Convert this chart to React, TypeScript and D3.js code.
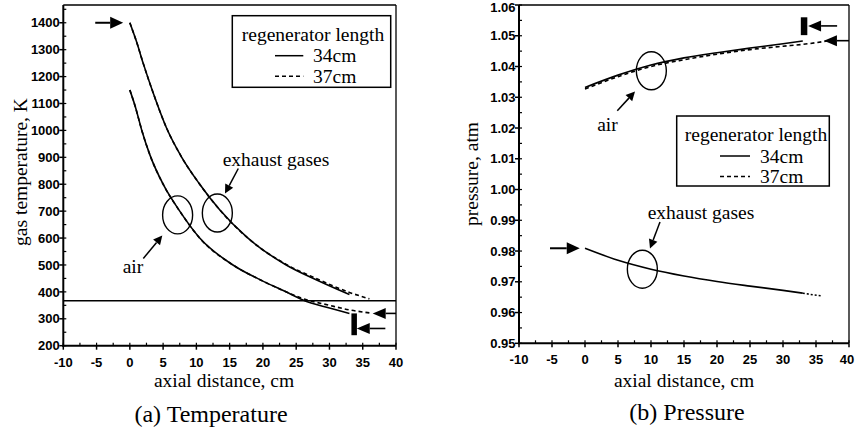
import React from "react";
import * as d3 from "d3";

// ---- Temperature panel data (axial distance cm, gas temperature K) ----
const exhaust34X = [0, 1, 2, 3.5, 5.5, 7.8, 10.5, 13.5, 17.5, 23.5, 28, 33];
const exhaust34T = [1400, 1330, 1250, 1140, 1010, 900, 800, 705, 605, 500, 445, 390];
const exhaust37X = [0, 1, 2, 3.5, 5.5, 7.8, 10.5, 13.5, 17.5, 23.5, 28, 33, 36];
const exhaust37T = [1400, 1330, 1250, 1140, 1010, 900, 800, 705, 605, 502, 450, 398, 374];
const air34X = [0, 0.8, 1.8, 3, 5, 7.5, 10.5, 15.5, 20, 23.3, 26, 30, 33];
const air34T = [1150, 1090, 1000, 910, 800, 700, 600, 500, 440, 402, 370, 340, 320];
const air37X = [0, 0.8, 1.8, 3, 5, 7.5, 10.5, 15.5, 20, 23.3, 26, 30, 33, 36];
const air37T = [1150, 1090, 1000, 910, 800, 700, 600, 500, 440, 402, 375, 350, 333, 322];
const ambientT = 367;

// ---- Pressure panel data (axial distance cm, pressure atm) ----
const airP34X = [0, 5, 10, 15, 20, 25, 30, 33];
const airP34 = [1.0332, 1.0372, 1.0405, 1.0428, 1.0445, 1.046, 1.0474, 1.0483];
const airP37X = [0, 5, 10, 15, 20, 25, 30, 33, 37];
const airP37 = [1.0327, 1.0367, 1.04, 1.0422, 1.044, 1.0455, 1.0466, 1.0472, 1.0484];
const exhP34X = [0, 5, 10, 15, 20, 25, 30, 33];
const exhP34 = [0.9809, 0.977, 0.9741, 0.9719, 0.9701, 0.9686, 0.9672, 0.9663];
const exhP37X = [33, 34.5, 36];
const exhP37 = [0.9663, 0.9658, 0.9654];

// ---- Tick values ----
const xTickValues = [-10, -5, 0, 5, 10, 15, 20, 25, 30, 35, 40];
const tempTickValues = [200, 300, 400, 500, 600, 700, 800, 900, 1000, 1100, 1200, 1300, 1400];
const presTickValues = [0.95, 0.96, 0.97, 0.98, 0.99, 1.0, 1.01, 1.02, 1.03, 1.04, 1.05, 1.06];

const legendTitle = "regenerator length";
const legendLabels = ["34cm", "37cm"];

const W = 856;
const H = 430;
const SERIF = "'Liberation Serif', 'Times New Roman', serif";
const SANS = "'Liberation Sans', Arial, sans-serif";

const xL = d3.scaleLinear().domain([-10, 40]).range([63.3, 396]);
const yL = d3.scaleLinear().domain([200, 1466]).range([345.7, 5]);
const xR = d3.scaleLinear().domain([-10, 40]).range([519, 849]);
const yR = d3.scaleLinear().domain([0.95, 1.06]).range([343.3, 5]);

function pathFor(xs: number[], ys: number[], sx: any, sy: any) {
  const line = d3
    .line<number>()
    .x((_, i) => sx(xs[i]))
    .y((_, i) => sy(ys[i]))
    .curve(d3.curveMonotoneX);
  return line(xs.map((_, i) => i)) || "";
}

// Arrow: shaft from (x1,y1) to tip (x2,y2) with a filled triangular head
function Arrow({ x1, y1, x2, y2, len = 12, half = 5.5, sw = 1.6 }: any) {
  const dx = x2 - x1;
  const dy = y2 - y1;
  const d = Math.hypot(dx, dy);
  const ux = dx / d;
  const uy = dy / d;
  const bx = x2 - ux * len;
  const by = y2 - uy * len;
  const px = -uy * half;
  const py = ux * half;
  return (
    <g>
      <line x1={x1} y1={y1} x2={bx} y2={by} stroke="#000" strokeWidth={sw} />
      <path d={`M${x2},${y2}L${bx + px},${by + py}L${bx - px},${by - py}Z`} fill="#000" />
    </g>
  );
}

function Frame({ sx, sy, yTicks, yFmt, yMinorStep }: any) {
  const [x0, x1] = sx.range();
  const [yb, yt] = sy.range();
  const xMinor = d3.range(-10, 40.01, 2.5);
  const [d0, d1] = sy.domain();
  const yMinor = d3.range(d0, d1 + 1e-9, yMinorStep);
  return (
    <g>
      <line x1={x0} y1={yt} x2={x1} y2={yt} stroke="#000" strokeWidth={1.3} />
      <line x1={x1} y1={yt} x2={x1} y2={yb} stroke="#000" strokeWidth={1.3} />
      <line x1={x0} y1={yt} x2={x0} y2={yb + 1} stroke="#000" strokeWidth={2} />
      <line x1={x0 - 1} y1={yb} x2={x1} y2={yb} stroke="#000" strokeWidth={2} />
      {xMinor.map((v) => (
        <line key={"xm" + v} x1={sx(v)} x2={sx(v)} y1={yb} y2={yb - 3} stroke="#000" strokeWidth={1.2} />
      ))}
      {xTickValues.map((v) => (
        <g key={"xt" + v}>
          <line x1={sx(v)} x2={sx(v)} y1={yb} y2={yb + 4} stroke="#000" strokeWidth={1.5} />
          <text
            x={Math.min(sx(v), W - 9)}
            y={yb + 21}
            textAnchor="middle"
            fontFamily={SANS}
            fontWeight="bold"
            fontSize={13}
          >
            {v}
          </text>
        </g>
      ))}
      {yMinor.map((v: number) => (
        <line key={"ym" + v} x1={x0} x2={x0 + 3} y1={sy(v)} y2={sy(v)} stroke="#000" strokeWidth={1.2} />
      ))}
      {yTicks.map((v: number) => (
        <g key={"yt" + v}>
          <line x1={x0 - 4} x2={x0} y1={sy(v)} y2={sy(v)} stroke="#000" strokeWidth={1.5} />
          <text
            x={x0 - 3.5}
            y={Math.max(sy(v) + 4.7, 12)}
            textAnchor="end"
            fontFamily={SANS}
            fontWeight="bold"
            fontSize={13}
          >
            {yFmt(v)}
          </text>
        </g>
      ))}
    </g>
  );
}

function Legend({ x, y, w, h, titleX, lineX1, lineX2, labelX }: any) {
  return (
    <g fontFamily={SERIF} fontSize={19.5}>
      <rect x={x} y={y} width={w} height={h} fill="#fff" stroke="#000" strokeWidth={1.5} />
      <text x={titleX} y={y + 25} textAnchor="middle">
        {legendTitle}
      </text>
      <line x1={lineX1} x2={lineX2} y1={y + 40} y2={y + 40} stroke="#000" strokeWidth={1.5} />
      <text x={labelX} y={y + 46.5}>
        {legendLabels[0]}
      </text>
      <line
        x1={lineX1}
        x2={lineX2}
        y1={y + 60.5}
        y2={y + 60.5}
        stroke="#000"
        strokeWidth={1.5}
        strokeDasharray="4 3"
      />
      <text x={labelX} y={y + 67}>
        {legendLabels[1]}
      </text>
    </g>
  );
}

export default function App() {
  const curve = { fill: "none", stroke: "#000", strokeWidth: 1.6 } as const;
  const dashed = { fill: "none", stroke: "#000", strokeWidth: 1.6, strokeDasharray: "4 3" } as const;
  return (
    <div style={{ position: "absolute", left: 0, top: 0, width: W, height: H, background: "#fff" }}>
      <svg width={W} height={H} style={{ display: "block" }}>
        <rect width={W} height={H} fill="#fff" />

        {/* ---------- (a) Temperature ---------- */}
        <Frame sx={xL} sy={yL} yTicks={tempTickValues} yFmt={(v: number) => String(v)} yMinorStep={50} />
        <line x1={xL(-10)} x2={xL(40)} y1={yL(ambientT)} y2={yL(ambientT)} stroke="#000" strokeWidth={1.5} />
        <path d={pathFor(exhaust37X, exhaust37T, xL, yL)} {...dashed} />
        <path d={pathFor(exhaust34X, exhaust34T, xL, yL)} {...curve} />
        <path d={pathFor(air37X, air37T, xL, yL)} {...dashed} />
        <path d={pathFor(air34X, air34T, xL, yL)} {...curve} />

        <Arrow x1={xL(-5.2)} y1={yL(1400)} x2={xL(-1)} y2={yL(1400)} len={13} half={6} sw={2} />
        <Arrow x1={xL(40)} y1={yL(320)} x2={xL(36.5)} y2={yL(320)} len={13} half={5.5} sw={1.6} />
        <rect x={xL(33.3)} y={yL(320)} width={5.5} height={yL(239) - yL(320)} fill="#000" />
        <Arrow x1={xL(38.4)} y1={yL(264)} x2={xL(34.1)} y2={yL(264)} len={13} half={5.5} sw={1.6} />

        <ellipse cx={xL(7.18)} cy={yL(686)} rx={15} ry={19} fill="none" stroke="#000" strokeWidth={1.4} />
        <ellipse cx={xL(13.15)} cy={yL(693)} rx={15} ry={19} fill="none" stroke="#000" strokeWidth={1.4} />

        <g fontFamily={SERIF} fontSize={19.5}>
          <text x={276} y={166} textAnchor="middle">exhaust gases</text>
          <text x={133} y={273} textAnchor="middle">air</text>
        </g>
        <Arrow x1={238.3} y1={168.5} x2={225} y2={193.5} len={9} half={4.5} sw={1.5} />
        <Arrow x1={143.3} y1={258.5} x2={162.3} y2={235.5} len={9} half={4.5} sw={1.5} />

        <Legend x={232.3} y={15.7} w={158.4} h={71.6} titleX={313} lineX1={275} lineX2={303.3} labelX={313} />

        <text
          transform={`translate(27,172) rotate(-90)`}
          textAnchor="middle"
          fontFamily={SERIF}
          fontSize={19.5}
        >
          gas temperature, K
        </text>
        <text x={224} y={387} textAnchor="middle" fontFamily={SERIF} fontSize={19.5}>
          axial distance, cm
        </text>
        <text x={211} y={422} textAnchor="middle" fontFamily={SERIF} fontSize={24}>
          (a) Temperature
        </text>

        {/* ---------- (b) Pressure ---------- */}
        <Frame sx={xR} sy={yR} yTicks={presTickValues} yFmt={(v: number) => v.toFixed(2)} yMinorStep={0.005} />
        <path d={pathFor(airP37X, airP37, xR, yR)} {...dashed} />
        <path d={pathFor(airP34X, airP34, xR, yR)} {...curve} />
        <path d={pathFor(exhP37X, exhP37, xR, yR)} {...dashed} strokeDasharray="2 2" />
        <path d={pathFor(exhP34X, exhP34, xR, yR)} {...curve} />

        <Arrow x1={xR(-5.3)} y1={yR(0.9809)} x2={xR(-0.8)} y2={yR(0.9809)} len={13} half={6} sw={2} />
        <rect x={xR(32.7)} y={yR(1.056)} width={6.5} height={yR(1.0502) - yR(1.056)} fill="#000" />
        <Arrow x1={xR(38.2)} y1={yR(1.0532)} x2={xR(33.8)} y2={yR(1.0532)} len={13} half={5.5} sw={1.6} />
        <Arrow x1={xR(40)} y1={yR(1.0484)} x2={xR(36.2)} y2={yR(1.0484)} len={13} half={5.5} sw={1.6} />

        <ellipse cx={xR(10.05)} cy={yR(1.0386)} rx={15} ry={19} fill="none" stroke="#000" strokeWidth={1.4} />
        <ellipse cx={xR(8.69)} cy={yR(0.9741)} rx={15} ry={19} fill="none" stroke="#000" strokeWidth={1.4} />

        <g fontFamily={SERIF} fontSize={19.5}>
          <text x={607.5} y={131} textAnchor="middle">air</text>
          <text x={701} y={219} textAnchor="middle">exhaust gases</text>
        </g>
        <Arrow x1={617.3} y1={110.7} x2={635} y2={91.5} len={9} half={4.5} sw={1.5} />
        <Arrow x1={660} y1={222} x2={650} y2={248.5} len={9} half={4.5} sw={1.5} />

        <Legend x={676.7} y={116} w={152.6} h={70} titleX={756} lineX1={720} lineX2={750} labelX={760} />

        <text
          transform={`translate(478,174) rotate(-90)`}
          textAnchor="middle"
          fontFamily={SERIF}
          fontSize={19.5}
        >
          pressure, atm
        </text>
        <text x={684} y={387} textAnchor="middle" fontFamily={SERIF} fontSize={19.5}>
          axial distance, cm
        </text>
        <text x={687} y={420} textAnchor="middle" fontFamily={SERIF} fontSize={24}>
          (b) Pressure
        </text>
      </svg>
    </div>
  );
}
